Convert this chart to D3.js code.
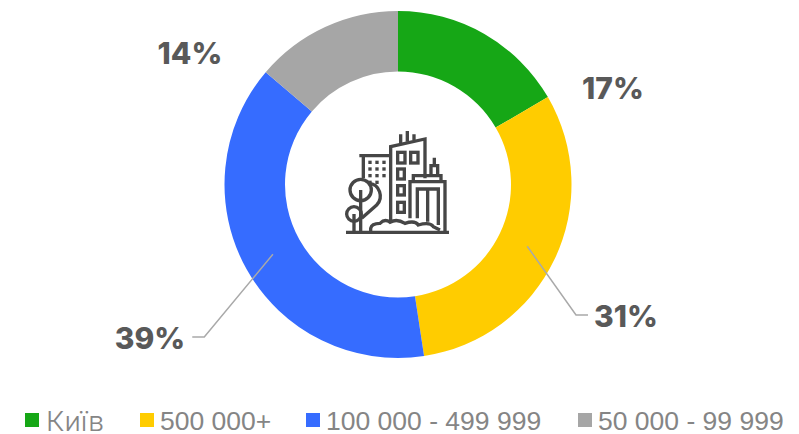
<!DOCTYPE html>
<html>
  <head>
    <meta charset="utf-8">
    <script src="https://cdn.jsdelivr.net/npm/d3@7/dist/d3.min.js"></script>
    <style>
      html, body { margin: 0; padding: 0; background: #fff; }
      svg { display: block; }
      .pct { font-family: Inter, sans-serif; font-weight: 800; font-size: 30px; fill: #595959; text-anchor: middle; }
      .leg { font-family: "Liberation Sans", sans-serif; font-size: 26.5px; fill: #858585; }
      .leg.cyr { font-family: Inter, sans-serif; font-weight: 300; font-size: 26.5px; }
      .icon * { fill: none; stroke: #464646; stroke-width: 10; }
      .icon .dot { fill: #464646; stroke: none; }
    </style>
  </head>
  <body>
    <script>
      const categories = ['Київ', '500 000+', '100 000 - 499 999', '50 000 - 99 999'];
      const values = [16.6, 31.0, 38.6, 13.8];
      const colors = ['#16a716', '#ffcc00', '#366cff', '#a6a6a6'];
      const labelX = [613, 626, 150, 190];
      const labelY = [99, 327, 349, 64];
      const legendX = [25, 140, 306, 578];

      const width = 799;
      const height = 434;
      const cx = 398;
      const cy = 184.5;
      const outer = 173.5;
      const inner = 113;

      const svg = d3.select('body').append('svg')
        .attr('width', width)
        .attr('height', height);

      const pie = d3.pie().sort(null).value(d => d);
      const arc = d3.arc().innerRadius(inner).outerRadius(outer);
      const arcs = pie(values);

      const g = svg.append('g').attr('transform', `translate(${cx},${cy})`);

      g.selectAll('path').data(arcs)
        .enter()
        .append('path')
        .attr('d', arc)
        .attr('fill', (d, i) => colors[i]);

      // leader lines only on the two big slices
      [1, 2].forEach(i => {
        const c = arc.centroid(arcs[i]);
        const sx = c[0] + cx;
        const sy = c[1] + cy;
        const ey = labelY[i] - 12;
        const dir = i === 1 ? 1 : -1;
        const ex = sx + dir * (ey - sy) * (i === 1 ? 0.71 : 0.83);
        svg.append('polyline')
          .attr('points', [[sx, sy], [ex, ey], [ex + dir * 12, ey]].join(' '))
          .attr('fill', 'none')
          .attr('stroke', '#a9a9a9')
          .attr('stroke-width', 1.5);
      });

      svg.selectAll('text.pct').data(values)
        .enter()
        .append('text')
        .classed('pct', true)
        .attr('x', (d, i) => labelX[i])
        .attr('y', (d, i) => labelY[i])
        .text(d => Math.round(d) + '%');

      svg.selectAll('rect.sw').data(categories)
        .enter()
        .append('rect')
        .classed('sw', true)
        .attr('x', (d, i) => legendX[i])
        .attr('y', 413)
        .attr('width', 14)
        .attr('height', 14)
        .attr('fill', (d, i) => colors[i]);

      svg.selectAll('text.leg').data(categories)
        .enter()
        .append('text')
        .attr('class', (d, i) => i === 0 ? 'leg cyr' : 'leg')
        .attr('x', (d, i) => legendX[i] + (i === 0 ? 21 : 20))
        .attr('y', (d, i) => i === 0 ? 431 : 429.5)
        .text(d => d);

      // Київ is set wider in the original
      svg.select('text.cyr')
        .attr('textLength', 58)
        .attr('lengthAdjust', 'spacingAndGlyphs');

      // building icon, drawn on a 3x grid
      const icon = svg.append('g').classed('icon', true)
        .attr('transform', 'translate(330,115) scale(0.3333)');
      const lines = [
        'M48 352H357',
        'M88 122H180M100 122V190',
        'M182 320V95L285 72V190',
        'M212 85V58M232 80V48M252 75V58',
        'M240 310V200H345V352M250 200V182H333V200',
        'M303 182V152H323V182M313 152V128',
        'M262 310V222H325V330M293 222V320',
        'M118 205A36 38 0 0 1 140 270L95 310',
        'M92 225V352M72 297V352',
        'M122 352V340Q125 325 150 325Q165 310 180 322Q200 310 225 325Q255 315 265 330Q300 320 310 335L330 345'
      ];
      icon.selectAll('path').data(lines)
        .enter()
        .append('path')
        .attr('d', d => d);
      icon.append('circle').attr('cx', 92).attr('cy', 225).attr('r', 32);
      icon.append('circle').attr('cx', 72).attr('cy', 297).attr('r', 22);
      [[203, 112, 22, 32], [242, 112, 22, 32], [203, 162, 20, 30], [203, 212, 20, 28], [203, 262, 20, 30]].forEach(r => {
        icon.append('rect').attr('x', r[0]).attr('y', r[1]).attr('width', r[2]).attr('height', r[3]);
      });
      [120, 141, 162].forEach(x => {
        [142, 162, 182, 202].forEach(y => {
          if (x < 150 || y < 190) {
            icon.append('rect').classed('dot', true).attr('x', x - 5).attr('y', y - 5).attr('width', 10).attr('height', 10);
          }
        });
      });
    </script>
  </body>
</html>
